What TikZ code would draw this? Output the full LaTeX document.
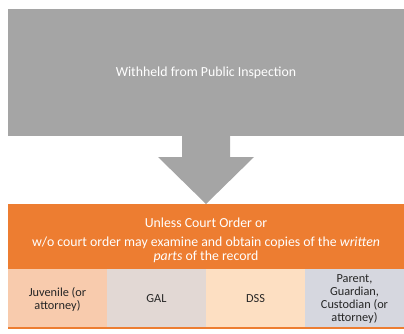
\documentclass[tikz,border=0pt]{standalone}
\usepackage{fontspec}
\setmainfont{Carlito}
\usetikzlibrary{positioning}
\definecolor{boxgray}{HTML}{A5A5A5}
\definecolor{boxorange}{HTML}{ED7D31}
\definecolor{celljuv}{HTML}{F8CBAD}
\definecolor{cellgal}{HTML}{E2D8D4}
\definecolor{celldss}{HTML}{FDDFC2}
\definecolor{cellpar}{HTML}{D6D7DF}
\definecolor{celltext}{HTML}{262626}

\begin{document}
\begin{tikzpicture}[x=1pt,y=-1pt]
\tikzstyle{block} = [rectangle, inner sep=0pt, outer sep=0pt, text=white,
font=\fontsize{13.8}{14.3}\selectfont, align=center, minimum width=396pt]
\tikzstyle{cell} = [rectangle, inner sep=0pt, outer sep=0pt, text=celltext,
font=\fontsize{12.3}{13}\selectfont, align=center, minimum width=99pt, minimum height=60pt]
\useasboundingbox (0,0) rectangle (404,333);

% top box
\node [block, fill=boxgray, minimum height=127pt] (inspect) at (206,72.5)
{Withheld from Public Inspection};

% orange box
\node [block, fill=boxorange, minimum height=65pt] (order) at (206,236.5)
{\rule{0pt}{17pt}Unless Court Order or\\[5pt]
w/o court order may examine and obtain copies of the \textit{written}\\
\textit{parts} of the record};

% row of cells
\node [cell, fill=celljuv, below=0pt of order.south west, anchor=north west] (juvenile)
{Juvenile (or\\attorney)};
\node [cell, fill=cellgal, right=0pt of juvenile] (gal) {GAL};
\node [cell, fill=celldss, right=0pt of gal] (dss) {DSS};
\node [cell, fill=cellpar, right=0pt of dss] (parent)
{Parent,\\Guardian,\\Custodian (or\\attorney)};
\fill [boxorange] (juvenile.south west) rectangle ([yshift=2pt]parent.south east);

% arrow
\fill [boxgray] ([xshift=-24pt]inspect.south) -- ([xshift=24pt]inspect.south)
 -- ++(0,21) -- ++(24,0) -- (order.north) -- ++(-48,-47) -- ++(24,0) -- cycle;
\end{tikzpicture}
\end{document}
